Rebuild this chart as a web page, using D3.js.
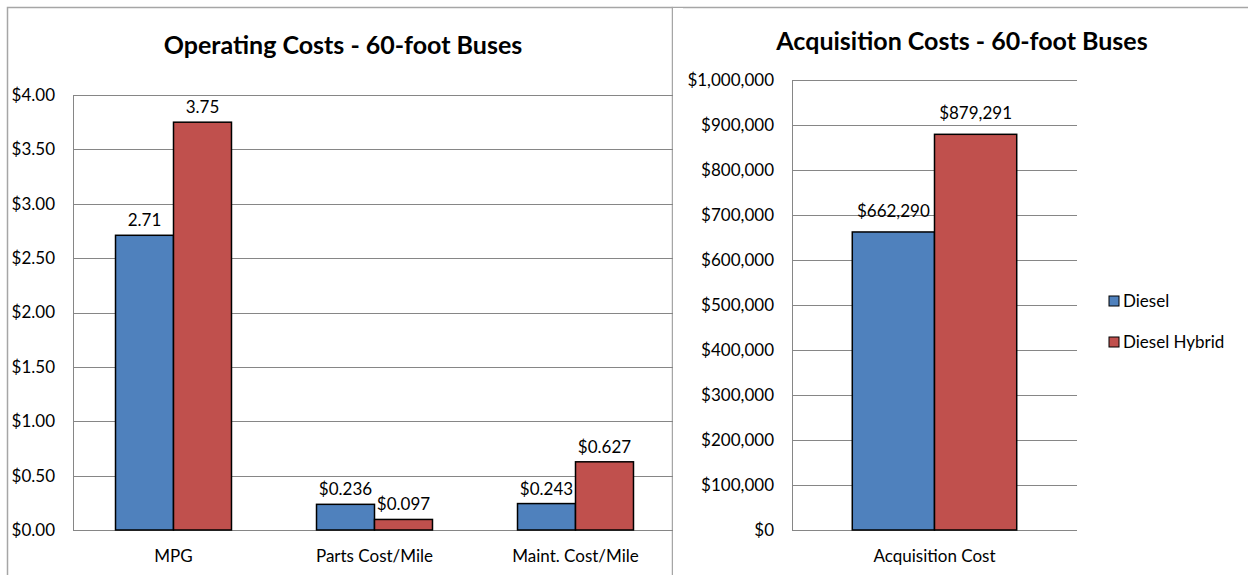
<!DOCTYPE html>
<html lang="en">
<head>
    <meta charset="UTF-8">
    <title>60-foot Buses</title>
    <script type="text/javascript" src="https://cdn.jsdelivr.net/npm/d3@7/dist/d3.min.js"></script>
    <style>
        body{
            margin: 0;
            background: #fff;
        }
        svg text{
            font-family: Lato, "Open Sans", sans-serif;
            fill: #000;
        }
        .title{
            font-size: 25px;
            font-weight: bold;
        }
        .tick text, .cat, .val, .leg{
            font-size: 17px;
        }
        .grid line{
            stroke: #868686;
            stroke-width: 1;
            shape-rendering: crispEdges;
        }
        .frame{
            stroke: #a6a6a6;
            stroke-width: 1.5;
            fill: none;
        }
        .bar{
            stroke: #000;
            stroke-width: 1.5;
        }
    </style>
</head>
<body>
<div id="app"></div>
<script type="text/javascript">
    var series = ['Diesel', 'Diesel Hybrid'];
    var colors = ['#4f81bd', '#c0504d'];

    var opCats = ['MPG', 'Parts Cost/Mile', 'Maint. Cost/Mile'];
    var opDiesel = [2.71, 0.236, 0.243];
    var opHybrid = [3.75, 0.097, 0.627];
    var opTicks = [0, 0.5, 1, 1.5, 2, 2.5, 3, 3.5, 4];

    var acqCats = ['Acquisition Cost'];
    var acqDiesel = [662290];
    var acqHybrid = [879291];
    var acqTicks = [0, 100000, 200000, 300000, 400000, 500000, 600000, 700000, 800000, 900000, 1000000];

    var svg = d3.select('#app').append('svg')
        .attr('width', 1248)
        .attr('height', 575);

    // chart frames
    svg.append('path').attr('class', 'frame')
        .attr('d', 'M7.5,580 V7.5 H672.5');
    svg.append('path').attr('class', 'frame')
        .attr('d', 'M672.5,580 V7.5 H1250');

    function drawChart(o){
        var g = svg.append('g');
        var x = d3.scaleBand().domain(o.cats).range([o.x0, o.x1])
            .paddingInner(0.423).paddingOuter(0.2115);
        var xs = d3.scaleBand().domain(series).range([0, x.bandwidth()]);
        var y = d3.scaleLinear().domain([0, d3.max(o.ticks)]).range([o.y0, o.y1]);

        // gridlines
        g.append('g').attr('class', 'grid')
            .selectAll('line').data(o.ticks).enter().append('line')
            .attr('x1', o.x0).attr('x2', o.x1)
            .attr('y1', function(d){ return Math.round(y(d)) + 0.5; })
            .attr('y2', function(d){ return Math.round(y(d)) + 0.5; });
        g.append('line')
            .attr('x1', o.x0 + 0.5).attr('x2', o.x0 + 0.5)
            .attr('y1', o.y1).attr('y2', o.y0)
            .attr('stroke', '#868686').attr('shape-rendering', 'crispEdges');

        // y axis labels
        var ax = g.append('g').attr('transform', 'translate(' + (o.x0 - 18) + ',0)')
            .call(d3.axisLeft(y).tickValues(o.ticks).tickFormat(o.tickFmt).tickSize(0).tickPadding(0));
        ax.select('.domain').remove();
        ax.selectAll('text').attr('dy', '0.32em');

        // bars
        var rows = o.cats.map(function(c, i){
            return {cat: c, i: i, vals: [o.a[i], o.b[i]]};
        });
        var grp = g.selectAll('g.cat-g').data(rows).enter().append('g')
            .attr('class', 'cat-g')
            .attr('transform', function(d){ return 'translate(' + x(d.cat) + ',0)'; });
        var cell = grp.selectAll('g.cell').data(function(d){
            return d.vals.map(function(v, k){ return {s: series[k], k: k, v: v, i: d.i}; });
        }).enter().append('g').attr('class', 'cell');
        cell.append('rect').attr('class', 'bar')
            .attr('x', function(d){ return xs(d.s); })
            .attr('width', xs.bandwidth())
            .attr('y', function(d){ return y(d.v); })
            .attr('height', function(d){ return y(0) - y(d.v); })
            .attr('fill', function(d){ return colors[d.k]; });
        cell.append('text').attr('class', 'val')
            .attr('text-anchor', 'middle')
            .attr('x', function(d){ return xs(d.s) + xs.bandwidth() / 2; })
            .attr('y', function(d){ return y(d.v) - o.lblOff; })
            .text(function(d){ return o.valFmt[d.i](d.v); });

        // category labels
        g.selectAll('text.cat').data(o.cats).enter().append('text')
            .attr('class', 'cat')
            .attr('text-anchor', 'middle')
            .attr('x', function(d){ return x(d) + x.bandwidth() / 2; })
            .attr('y', o.y0 + 32)
            .text(function(d){ return d; });

        // title
        g.append('text').attr('class', 'title')
            .attr('text-anchor', 'middle')
            .attr('x', o.tx).attr('y', o.ty)
            .text(o.title);
    }

    var f2 = d3.format('.2f'), f3 = d3.format('$.3f');
    drawChart({
        title: 'Operating Costs - 60-foot Buses', tx: 343, ty: 54,
        cats: opCats, a: opDiesel, b: opHybrid, ticks: opTicks,
        x0: 73, x1: 676, y0: 530, y1: 95, lblOff: 9,
        tickFmt: d3.format('$.2f'),
        valFmt: [f2, f3, f3]
    });
    drawChart({
        title: 'Acquisition Costs - 60-foot Buses', tx: 962, ty: 50,
        cats: acqCats, a: acqDiesel, b: acqHybrid, ticks: acqTicks,
        x0: 792, x1: 1077, y0: 530, y1: 80, lblOff: 15,
        tickFmt: d3.format('$,'),
        valFmt: [d3.format('$,')]
    });

    // legend
    var leg = svg.append('g').attr('transform', 'translate(1109,296)');
    var li = leg.selectAll('g').data(series).enter().append('g')
        .attr('transform', function(d, i){ return 'translate(0,' + (i * 41) + ')'; });
    li.append('rect').attr('width', 10).attr('height', 10)
        .attr('fill', function(d, i){ return colors[i]; })
        .attr('stroke', '#000').attr('stroke-width', 1);
    li.append('text').attr('class', 'leg')
        .attr('x', 14).attr('y', 11)
        .text(function(d){ return d; });

    // the left chart is covered by the right one at its edge
    svg.append('rect').attr('x', 673).attr('y', 8).attr('width', 10).attr('height', 567).attr('fill', '#fff');
</script>
</body>
</html>
